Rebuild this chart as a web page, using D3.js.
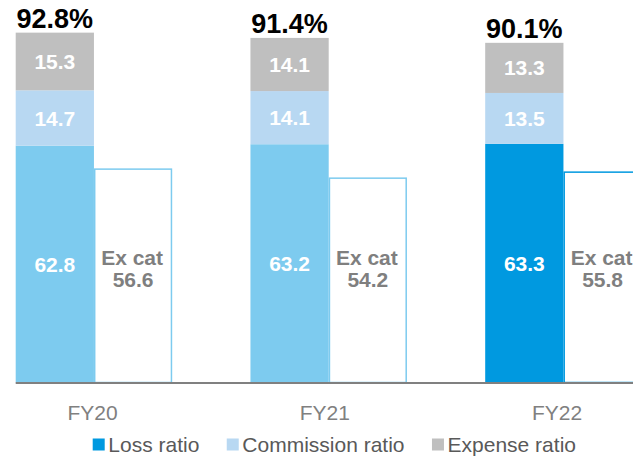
<!DOCTYPE html>
<html>
<head>
<meta charset="utf-8">
<script src="https://cdn.jsdelivr.net/npm/d3@7"></script>
<style>
  html, body { margin: 0; padding: 0; background: #fff; }
  svg { display: block; font-family: "Liberation Sans", Arial, sans-serif; }
</style>
</head>
<body>
<svg id="chart" width="633" height="457"></svg>
<script>
// Combined ratio by fiscal year (%)
const years = ["FY20", "FY21", "FY22"];
const lossRatio = [62.8, 63.2, 63.3];
const commissionRatio = [14.7, 14.1, 13.5];
const expenseRatio = [15.3, 14.1, 13.3];
const combinedRatio = [92.8, 91.4, 90.1];
const exCatLossRatio = [56.6, 54.2, 55.8];
const seriesNames = ["Loss ratio", "Commission ratio", "Expense ratio"];

const colors = {
  loss: "#7dcbef",
  lossCurrent: "#0099e0",
  commission: "#b8d8f2",
  expense: "#bfbfbf",
  exCatText: "#7f7f7f",
  axis: "#808080",
  legendText: "#595959"
};
const legendColors = [colors.lossCurrent, colors.commission, colors.expense];

const svg = d3.select("#chart");

const y = d3.scaleLinear().domain([0, 100]).range([382.5, 5.5]);

// one band per year holding the stacked bar and the ex-cat bar side by side
const x = d3.scaleBand().domain(years).range([15.7, 641.7]).paddingInner(1 / 3).paddingOuter(0);
const xSub = d3.scaleBand().domain(["stack", "excat"]).range([0, x.bandwidth()]);
const xLabel = d3.scalePoint().domain(years).range([92.5, 557]);

const rows = years.map((yr, i) => ({
  year: yr,
  i,
  loss: lossRatio[i],
  commission: commissionRatio[i],
  expense: expenseRatio[i],
  total: combinedRatio[i],
  excat: exCatLossRatio[i]
}));

const stack = d3.stack().keys(["loss", "commission", "expense"]);
const layers = stack(rows);

const segColor = (key, i) => {
  if (key === "loss") return i === years.length - 1 ? colors.lossCurrent : colors.loss;
  return colors[key];
};

// ex-cat outline bars (drawn first so the stacked bars sit on top of shared edges)
const exG = svg.append("g");
exG.selectAll("rect")
  .data(rows)
  .join("rect")
  .attr("x", d => x(d.year) + xSub("excat") + 0.75)
  .attr("y", d => y(d.excat))
  .attr("width", xSub.bandwidth() - 1.5)
  .attr("height", d => y(0) - y(d.excat))
  .attr("fill", "#fff")
  .attr("stroke", d => d.i === years.length - 1 ? colors.lossCurrent : colors.loss)
  .attr("stroke-width", 1.5);

// stacked segments
const segG = svg.append("g");
layers.forEach(layer => {
  segG.selectAll(null)
    .data(layer)
    .join("rect")
    .attr("x", (d, i) => x(years[i]) + xSub("stack"))
    .attr("y", d => y(d[1]))
    .attr("width", xSub.bandwidth())
    .attr("height", d => y(d[0]) - y(d[1]))
    .attr("fill", (d, i) => segColor(layer.key, i));

  segG.selectAll(null)
    .data(layer)
    .join("text")
    .attr("x", (d, i) => x(years[i]) + xSub("stack") + xSub.bandwidth() / 2)
    .attr("y", d => (y(d[0]) + y(d[1])) / 2)
    .attr("dy", "0.36em")
    .attr("text-anchor", "middle")
    .attr("fill", "#fff")
    .attr("font-weight", "bold")
    .attr("font-size", 21)
    .text(d => d.data[layer.key].toFixed(1));
});

// combined ratio totals above each stack
svg.append("g").selectAll("text")
  .data(rows)
  .join("text")
  .attr("x", d => x(d.year) + xSub("stack") + xSub.bandwidth() / 2)
  .attr("y", d => y(d.total) - 4.5)
  .attr("text-anchor", "middle")
  .attr("fill", "#000")
  .attr("font-weight", "bold")
  .attr("font-size", 27)
  .text(d => d.total.toFixed(1) + "%");

// ex-cat labels
const exLabel = svg.append("g").selectAll("text")
  .data(rows)
  .join("text")
  .attr("text-anchor", "middle")
  .attr("fill", colors.exCatText)
  .attr("font-weight", "bold")
  .attr("font-size", 21);
exLabel.append("tspan")
  .attr("x", d => x(d.year) + xSub("excat") + xSub.bandwidth() / 2 - 1)
  .attr("y", y(31.2))
  .text("Ex cat");
exLabel.append("tspan")
  .attr("x", d => x(d.year) + xSub("excat") + xSub.bandwidth() / 2)
  .attr("y", y(25.4))
  .text(d => d.excat.toFixed(1));

// baseline
svg.append("line")
  .attr("x1", x.range()[0])
  .attr("x2", 633)
  .attr("y1", y(0) + 0.5)
  .attr("y2", y(0) + 0.5)
  .attr("stroke", colors.axis)
  .attr("stroke-width", 2);

// category labels
svg.append("g").selectAll("text")
  .data(years)
  .join("text")
  .attr("x", d => xLabel(d))
  .attr("y", 420)
  .attr("text-anchor", "middle")
  .attr("fill", colors.axis)
  .attr("font-size", 21)
  .text(d => d);

// legend
const legend = svg.append("g");
let lx = 92.7;
seriesNames.forEach((name, i) => {
  legend.append("rect")
    .attr("x", lx)
    .attr("y", 438.5)
    .attr("width", 12)
    .attr("height", 12)
    .attr("fill", legendColors[i]);
  const t = legend.append("text")
    .attr("x", lx + 15.6)
    .attr("y", 451.5)
    .attr("fill", colors.legendText)
    .attr("font-size", 21)
    .text(name);
  lx += 15.6 + t.node().getComputedTextLength() + 27.4;
});
</script>
</body>
</html>
